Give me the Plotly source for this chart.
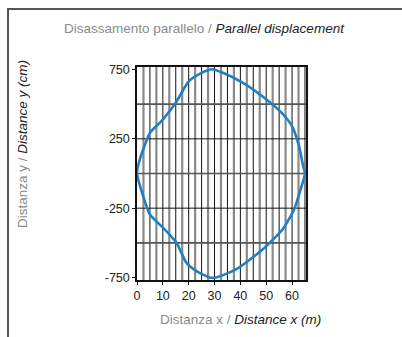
import plotly.graph_objects as go

# Outline of the parallel-displacement zone: distance x (m) vs distance y (cm)
upper_x = [0, 0.6, 2.4, 5, 10, 15, 20, 25, 29, 33, 41, 48.5, 56, 60, 62.7, 64.3, 65]
upper_y = [0, 70, 173, 293, 389, 510, 665, 726, 752, 728, 654, 557, 437, 341, 197, 53, 0]
lower_x = [65, 63.3, 60.8, 56.3, 48.6, 38.3, 30.6, 28.1, 23, 19.1, 15.3, 10.1, 5, 2.4, 0]
lower_y = [0, -115, -260, -404, -548, -692, -750, -750, -704, -644, -500, -392, -296, -164, 0]

x_ticks = [0, 10, 20, 30, 40, 50, 60]
y_ticks = [750, 250, -250, -750]
y_grid = [500, 250, 0, -250, -500]

X_MAX = 65.4
Y_MAX = 768

FONT = "Liberation Sans Narrow, Arial Narrow, sans-serif"

fig = go.Figure()
fig.add_trace(go.Scatter(
    x=upper_x + lower_x[1:],
    y=upper_y + lower_y[1:],
    mode="lines",
    line=dict(color="#1f7fc0", width=2.6, shape="spline", smoothing=0.6),
    hoverinfo="skip",
    showlegend=False,
))

shapes = []
# vertical grid every 2.5 m: gray on the half steps, black on multiples of 5
k = 1
while k * 2.5 < X_MAX:
    xv = k * 2.5
    if k % 2:
        shapes.append(dict(type="line", xref="x", yref="paper", x0=xv, x1=xv, y0=0, y1=1,
                           line=dict(color="#8a8a8a", width=2.2), layer="below"))
    else:
        shapes.append(dict(type="line", xref="x", yref="paper", x0=xv, x1=xv, y0=0, y1=1,
                           line=dict(color="#111111", width=1), layer="below"))
    k += 1
# horizontal grid
for yv in y_grid:
    if yv % 500 == 0:
        col, w = "#555555", 1.6
    else:
        col, w = "#111111", 1
    shapes.append(dict(type="line", xref="paper", yref="y", x0=0, x1=1, y0=yv, y1=yv,
                       line=dict(color=col, width=w), layer="below"))
# outer frame (left and top edges)
shapes.append(dict(type="path", xref="paper", yref="paper",
                   path="M -0.7633 -0.27 L -0.7633 1.2723 L 1.57 1.2723",
                   line=dict(color="#555555", width=2)))

fig.update_layout(
    width=402, height=337,
    margin=dict(l=137, r=96, t=67, b=57),
    paper_bgcolor="white", plot_bgcolor="white",
    font=dict(family=FONT, size=12, color="#222222"),
    shapes=shapes,
    xaxis=dict(range=[0, X_MAX], tickvals=x_ticks, ticktext=[str(v) for v in x_ticks],
               showgrid=False, zeroline=False, showline=True, linecolor="#111111", linewidth=1.5,
               mirror=True, ticks="outside", ticklen=3, tickcolor="#111111",
               tickfont=dict(size=12.5, color="#222222", family=FONT), fixedrange=True),
    yaxis=dict(range=[-Y_MAX, Y_MAX], tickvals=y_ticks, ticktext=[str(v) for v in y_ticks],
               showgrid=False, zeroline=False, showline=True, linecolor="#111111", linewidth=1.5,
               mirror=True, ticks="outside", ticklen=3, tickcolor="#111111",
               tickfont=dict(size=12.5, color="#222222", family=FONT), fixedrange=True),
    annotations=[
        dict(text="<span style='color:#8a8a8a'>Disassamento parallelo / </span><i>Parallel displacement</i>",
             xref="paper", yref="paper", x=(204 - 137) / 169, y=(280 - 28) / 213,
             xanchor="center", yanchor="middle", showarrow=False,
             font=dict(size=13.5, color="#222222", family=FONT)),
        dict(text="<span style='color:#8a8a8a'>Distanza y / </span><i>Distance y (cm)</i>",
             xref="paper", yref="paper", x=(22 - 137) / 169, y=(280 - 144) / 213,
             xanchor="center", yanchor="middle", textangle=-90, showarrow=False,
             font=dict(size=13.5, color="#222222", family=FONT)),
        dict(text="<span style='color:#8a8a8a'>Distanza x / </span><i>Distance x (m)</i>",
             xref="paper", yref="paper", x=(240 - 137) / 169, y=(280 - 319) / 213,
             xanchor="center", yanchor="middle", showarrow=False,
             font=dict(size=13.5, color="#222222", family=FONT)),
    ],
)

fig.write_html("out.html")
